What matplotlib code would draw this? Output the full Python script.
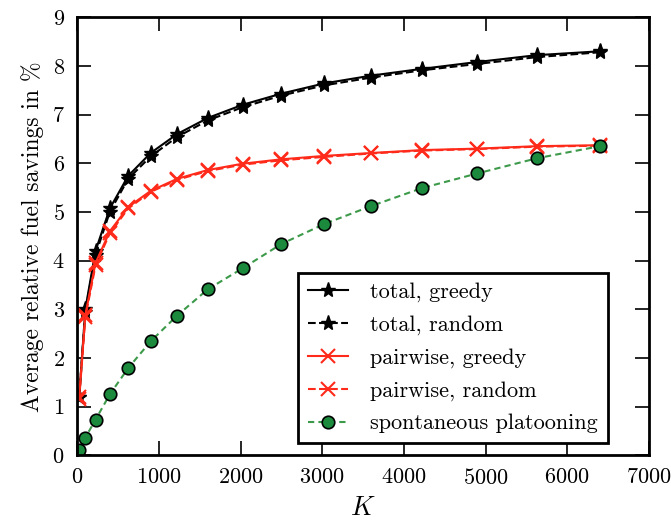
import numpy as np
import matplotlib
matplotlib.use("Agg")
import matplotlib.pyplot as plt

plt.rcParams['font.family'] = ['cmr10', 'DejaVu Serif']
plt.rcParams['mathtext.fontset'] = 'cm'
plt.rcParams['axes.formatter.use_mathtext'] = True

# K values (squares 5^2 .. 80^2)
K = [25, 100, 225, 400, 625, 900, 1225, 1600, 2025, 2500, 3025, 3600, 4225, 4900, 5625, 6400]

total_greedy = [1.2, 3.0, 4.2, 5.07, 5.74, 6.21, 6.6, 6.93, 7.2, 7.43, 7.64, 7.8, 7.94, 8.08, 8.22, 8.3]
total_random = [1.2, 2.95, 4.12, 5.0, 5.68, 6.14, 6.54, 6.88, 7.15, 7.39, 7.6, 7.76, 7.91, 8.04, 8.18, 8.28]
pair_greedy = [1.2, 2.88, 3.95, 4.6, 5.1, 5.43, 5.68, 5.86, 5.99, 6.08, 6.15, 6.21, 6.27, 6.3, 6.35, 6.37]
pair_random = [1.15, 2.84, 3.9, 4.56, 5.07, 5.41, 5.66, 5.84, 5.97, 6.06, 6.13, 6.2, 6.26, 6.29, 6.34, 6.36]
spontaneous = [0.1, 0.36, 0.73, 1.25, 1.79, 2.34, 2.87, 3.41, 3.84, 4.34, 4.75, 5.12, 5.49, 5.79, 6.1, 6.35]

fig = plt.figure(figsize=(6.71, 5.22), dpi=100)
ax = fig.add_axes([0.115, 0.128, 0.852, 0.839])

red = '#ff2a1a'
green = '#1b8a3c'

ax.plot(K, total_greedy, '-', color='black', marker='*', ms=11, lw=1.5, label='total, greedy')
ax.plot(K, total_random, '--', color='black', marker='*', ms=11, lw=1.5, label='total, random')
ax.plot(K, pair_greedy, '-', color=red, marker='x', ms=10, mew=1.5, lw=1.5, label='pairwise, greedy')
ax.plot(K, pair_random, '--', color=red, marker='x', ms=10, mew=1.5, lw=1.5, label='pairwise, random')
ax.plot(K, spontaneous, '--', color='#3c9a4a', dashes=(3, 2), marker='o', ms=9,
        mfc=green, mec='black', mew=1.2, lw=1.5, label='spontaneous platooning')

ax.set_xlim(0, 7000)
ax.set_ylim(0, 9)
ax.set_xticks(np.arange(0, 7001, 1000))
ax.set_yticks(np.arange(0, 10, 1))
ax.tick_params(direction='in', length=10, width=1.2, top=True, right=True, labelsize=16, pad=9)
for s in ax.spines.values():
    s.set_linewidth(2)

ax.set_xlabel('$K$', fontsize=19, labelpad=6)
ax.set_ylabel('Average relative fuel savings in %', fontsize=17, labelpad=6)

leg = ax.legend(loc='lower right', bbox_to_anchor=(0.928, 0.027), borderaxespad=0,
                fontsize=16, fancybox=False, framealpha=1, edgecolor='black',
                handlelength=1.8, handletextpad=1.0, labelspacing=0.58, borderpad=0.45)
leg.get_frame().set_linewidth(2)

fig.savefig('out.png', dpi=100)
